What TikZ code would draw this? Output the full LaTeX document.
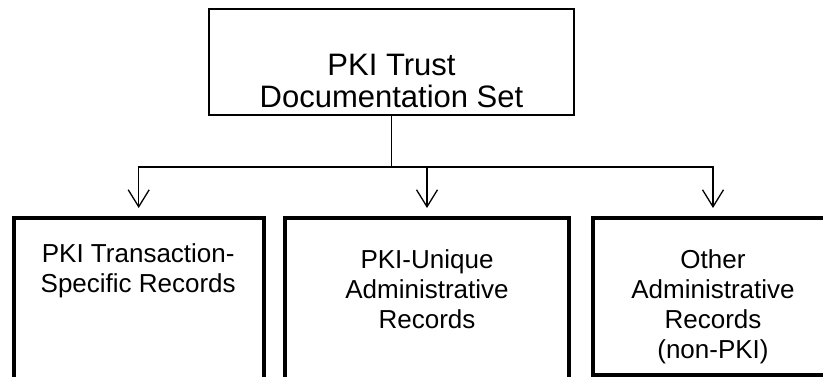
\documentclass[tikz,border=0pt]{standalone}
\usepackage{fontspec}
\setmainfont{Liberation Sans}
\usetikzlibrary{arrows.meta}

\tikzset{
  headbox/.style={draw,line width=1.8pt,minimum width=365pt,minimum height=106pt,inner sep=0pt},
  recbox/.style={draw,line width=4pt,inner sep=0pt},
  headtext/.style={align=center,inner sep=0pt,anchor=north,font=\fontsize{31}{32}\selectfont},
  boxtext/.style={align=center,inner sep=0pt,anchor=north,font=\fontsize{26}{30}\selectfont},
  link/.style={line width=1.3pt,-{Straight Barb[length=17pt,width=21pt]},shorten >=8pt}
}

\begin{document}
\begin{tikzpicture}[x=1pt,y=-1pt]
        \useasboundingbox (0,0) rectangle (823,377);
        \clip (0,0) rectangle (823,377);

        % documentation set
        \node[headbox] (docset) at (391.5,62) {};
        \node[headtext] (docsettext) at (391.5,54) {PKI Trust\\Documentation Set};

        % record boxes
        \node[recbox,minimum width=250pt,minimum height=200pt] (trans) at (138.7,318) {};
        \node[recbox,minimum width=283.4pt,minimum height=200pt] (unique) at (427,318) {};
        \node[recbox,minimum width=240pt,minimum height=157pt] (other) at (713,296.5) {};

        \node[boxtext] (transtext) at (138.2,243) {PKI Transaction-\\Specific Records};
        \node[boxtext] (uniquetext) at (427,249) {PKI-Unique\\Administrative\\Records};
        \node[boxtext] (othertext) at (713,249) {Other\\Administrative\\Records\\(non-PKI)};

        % connectors
        \coordinate (split) at (docset.south |- 0,167);
        \draw[line width=1.3pt] (docset.south) -- (split);
        \draw[link] (split) -| (trans.north);
        \draw[link] (split) -| (unique.north);
        \draw[link] (split) -| (other.north);
    \end{tikzpicture}
\end{document}
